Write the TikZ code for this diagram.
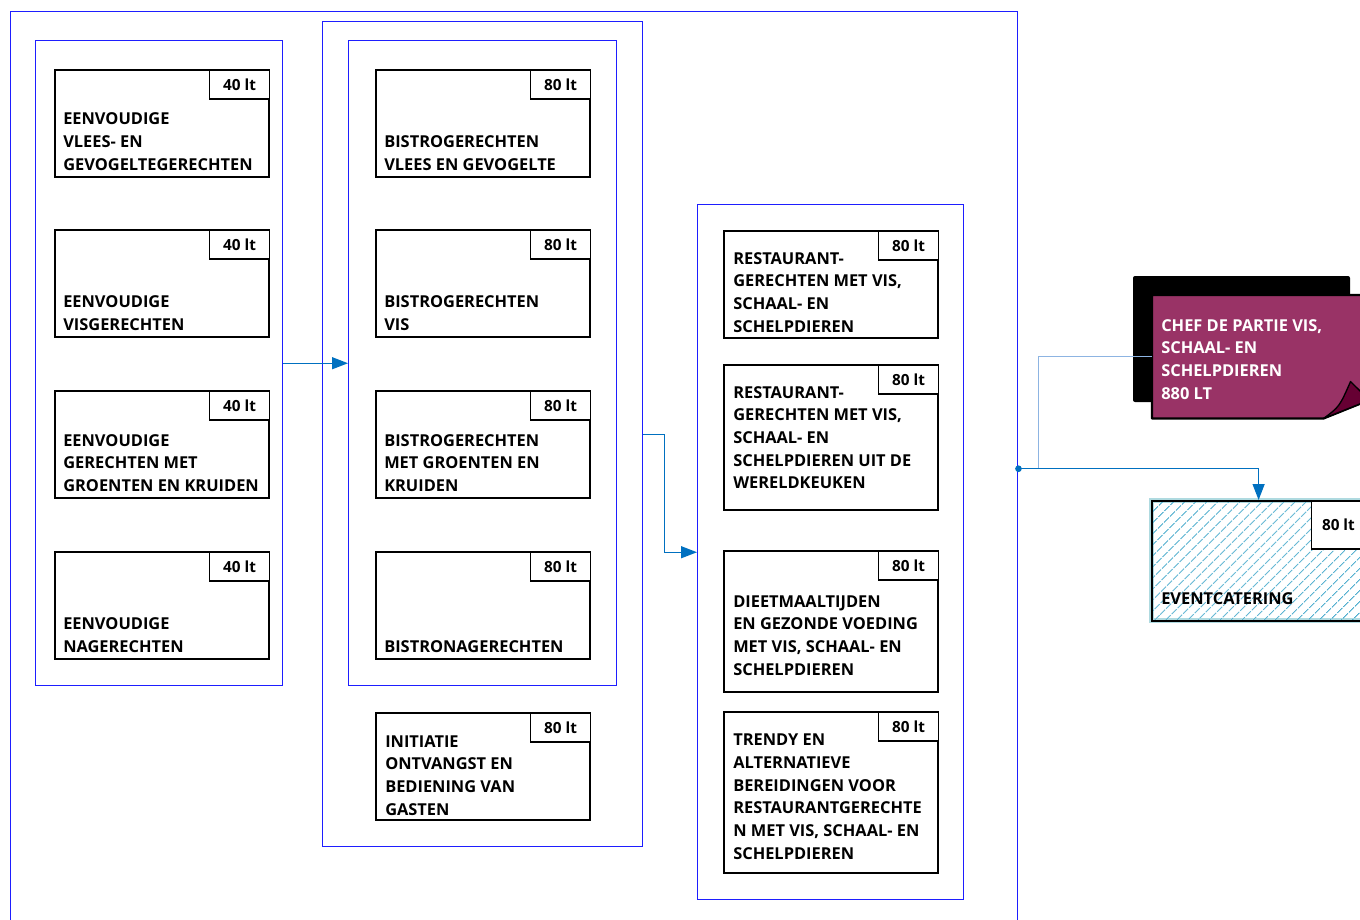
\documentclass[tikz,border=0pt]{standalone}
\usepackage{fontspec}
\setmainfont{Open Sans}
\usetikzlibrary{positioning, arrows.meta, calc, patterns.meta}
\definecolor{frameblue}{RGB}{30,30,255}
\definecolor{linkblue}{RGB}{0,112,192}
\definecolor{chefline}{RGB}{141,180,226}
\definecolor{chefpurple}{RGB}{153,51,102}
\definecolor{chefflap}{RGB}{102,0,51}
\definecolor{hatchblue}{RGB}{75,172,205}
\definecolor{eventedge}{RGB}{175,218,224}
\tikzstyle{frame} = [rectangle, draw=frameblue, line width=1.1pt, anchor=north west, inner sep=0pt]
\tikzstyle{conn} = [draw=linkblue, line width=1pt, -{Triangle[length=12pt,width=9pt]}]

\begin{document}
\begin{tikzpicture}[
        x=0.75pt, y=-0.75pt,
        dish/.style={rectangle, draw, line width=1.8pt, anchor=north west, inner sep=0pt, minimum width=160.5pt, minimum height=80.25pt},
        tag/.style={rectangle, draw, fill=white, line width=1.2pt, anchor=north east, minimum width=45pt, minimum height=21.75pt, font=\fontsize{11.5}{13}\selectfont\bfseries},
        dishtext/.style={inner sep=0pt, align=left, font=\fontsize{12.3}{17}\selectfont\bfseries, execute at begin node=\strut, execute at end node=\strut},
        chefconn/.style={draw=chefline, line width=1pt}
    ]
    \useasboundingbox (0,0) rectangle (1360,920);
    \clip (0,0) rectangle (1360,920);

    % Frames
    \node[frame, minimum width=755.25pt, minimum height=685.5pt] (outer) at (10,11) {};
    \node[frame, minimum width=185.25pt, minimum height=483.75pt] (col1) at (35,40) {};
    \node[frame, minimum width=240pt, minimum height=618.75pt] (col2) at (322,21) {};
    \node[frame, minimum width=201pt, minimum height=483.75pt] (col2in) at (348,40) {};
    \node[frame, minimum width=199.5pt, minimum height=521.25pt] (col3) at (697,204) {};

    % Eenvoudige gerechten
    \node[dish] (e1) at (54,69) {};
    \node[tag] at (e1.north east) {40 lt};
    \node[dishtext, anchor=south west] at ($(e1.south west)+(9,-1)$) {EENVOUDIGE\\VLEES- EN\\GEVOGELTEGERECHTEN};
    \node[dish] (e2) at (54,229) {};
    \node[tag] at (e2.north east) {40 lt};
    \node[dishtext, anchor=south west] at ($(e2.south west)+(9,-1)$) {EENVOUDIGE\\VISGERECHTEN};
    \node[dish] (e3) at (54,390) {};
    \node[tag] at (e3.north east) {40 lt};
    \node[dishtext, anchor=south west] at ($(e3.south west)+(9,-1)$) {EENVOUDIGE\\GERECHTEN MET\\GROENTEN EN KRUIDEN};
    \node[dish] (e4) at (54,551) {};
    \node[tag] at (e4.north east) {40 lt};
    \node[dishtext, anchor=south west] at ($(e4.south west)+(9,-1)$) {EENVOUDIGE\\NAGERECHTEN};

    % Bistrogerechten
    \node[dish] (b1) at (375,69) {};
    \node[tag] at (b1.north east) {80 lt};
    \node[dishtext, anchor=south west] at ($(b1.south west)+(9,-1)$) {BISTROGERECHTEN\\VLEES EN GEVOGELTE};
    \node[dish] (b2) at (375,229) {};
    \node[tag] at (b2.north east) {80 lt};
    \node[dishtext, anchor=south west] at ($(b2.south west)+(9,-1)$) {BISTROGERECHTEN\\VIS};
    \node[dish] (b3) at (375,390) {};
    \node[tag] at (b3.north east) {80 lt};
    \node[dishtext, anchor=south west] at ($(b3.south west)+(9,-1)$) {BISTROGERECHTEN\\MET GROENTEN EN\\KRUIDEN};
    \node[dish] (b4) at (375,551) {};
    \node[tag] at (b4.north east) {80 lt};
    \node[dishtext, anchor=south west] at ($(b4.south west)+(9,-1)$) {BISTRONAGERECHTEN};
    \node[dish] (init) at (375,712) {};
    \node[tag] at (init.north east) {80 lt};
    \node[dishtext, anchor=north west] at ($(init.north west)+(10,23)$) {INITIATIE\\ONTVANGST EN\\BEDIENING VAN\\GASTEN};

    % Restaurantgerechten
    \node[dish] (r1) at (723,230) {};
    \node[tag] at (r1.north east) {80 lt};
    \node[dishtext, anchor=north west] at ($(r1.north west)+(10,22)$) {RESTAURANT-\\GERECHTEN MET VIS,\\SCHAAL- EN\\SCHELPDIEREN};
    \node[dish, minimum height=108.75pt] (r2) at (723,364) {};
    \node[tag] at (r2.north east) {80 lt};
    \node[dishtext, anchor=north west] at ($(r2.north west)+(10,22)$) {RESTAURANT-\\GERECHTEN MET VIS,\\SCHAAL- EN\\SCHELPDIEREN UIT DE\\WERELDKEUKEN};
    \node[dish, minimum height=105.75pt] (r3) at (723,550) {};
    \node[tag] at (r3.north east) {80 lt};
    \node[dishtext, anchor=north west] at ($(r3.north west)+(10,45)$) {DIEETMAALTIJDEN\\EN GEZONDE VOEDING\\MET VIS, SCHAAL- EN\\SCHELPDIEREN};
    \node[dish, minimum height=120.75pt] (r4) at (723,711) {};
    \node[tag] at (r4.north east) {80 lt};
    \node[dishtext, anchor=north west] at ($(r4.north west)+(10,23)$) {TRENDY EN\\ALTERNATIEVE\\BEREIDINGEN VOOR\\RESTAURANTGERECHTE\\N MET VIS, SCHAAL- EN\\SCHELPDIEREN};

    % Chef de partie
    \fill[black, rounded corners=1.5pt] (1133,276) rectangle (1350,402);
    \node[anchor=north west, inner sep=0pt, minimum width=162.75pt, minimum height=92.25pt] (chef) at (1152,295) {};
    \draw[fill=chefpurple, line width=1.6pt, line join=round] (chef.north west) -- (chef.north east) -- ($(chef.north east)+(0,105)$) -- ($(chef.south east)+(-46,0)$) -- (chef.south west) -- cycle;
    \draw[fill=chefflap, line width=1pt, line join=round] ($(chef.south east)+(-46,0)$) .. controls ($(chef.south east)+(-30,-12)$) .. ($(chef.south east)+(-19,-37)$) .. controls ($(chef.south east)+(-12,-30)$) .. ($(chef.north east)+(0,105)$) -- cycle;
    \node[dishtext, text=white, anchor=north west] at ($(chef.north west)+(9,24)$) {CHEF DE PARTIE VIS,\\SCHAAL- EN\\SCHELPDIEREN\\880 LT};

    % Eventcatering
    \node[dish, line width=1.5pt, minimum height=90pt, preaction={draw=eventedge, line width=3.6pt}, pattern={Lines[angle=45, distance=6.4pt, line width=0.9pt]}, pattern color=hatchblue] (event) at (1151,500) {};
    \node[tag, minimum width=40.5pt, minimum height=36pt] at (event.north east) {80 lt};
    \node[dishtext, anchor=north west] at ($(event.north west)+(10,88)$) {EVENTCATERING};

    % Connectors
    \draw[conn] (col1) -- (col2in);
    \draw[conn] (col2.east) -- ++(21,0) |- (col3.west);
    \coordinate (jn) at ($(outer.east)+(20,0)$);
    \draw[chefconn] (chef.west) -| (jn);
    \draw[conn] (outer.east) -| (event.north);
    \fill[linkblue] (outer.east) circle[radius=2.5pt];
\end{tikzpicture}
\end{document}
